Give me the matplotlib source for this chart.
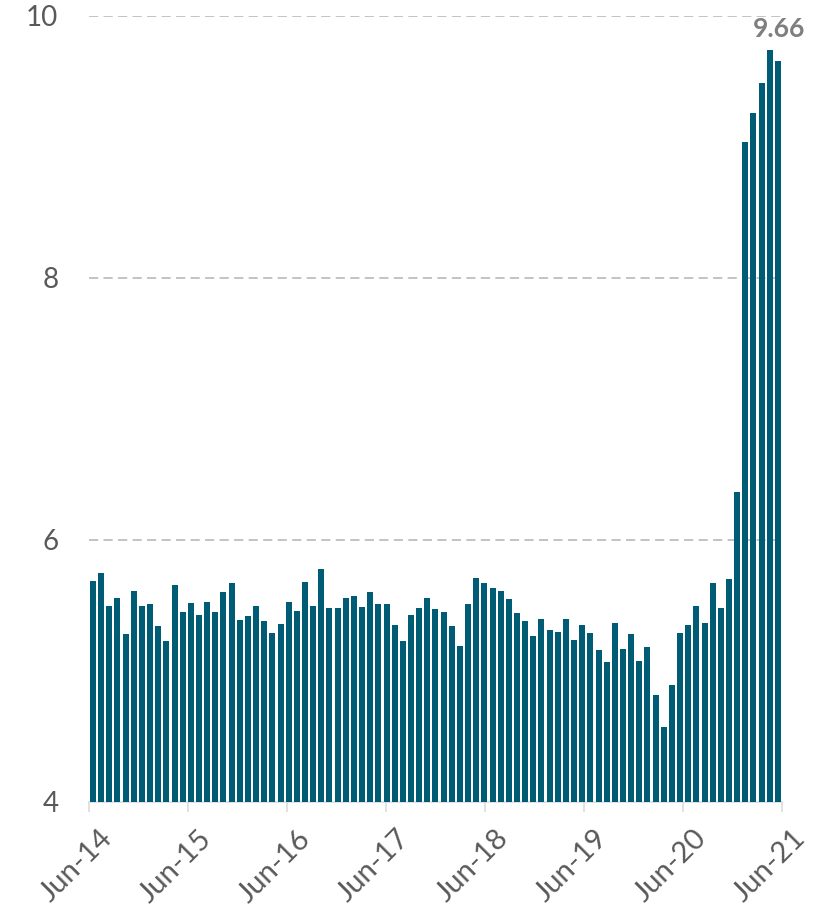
import matplotlib
matplotlib.use("Agg")
import matplotlib.pyplot as plt
import matplotlib.transforms as mtransforms
import numpy as np

plt.rcParams['font.family'] = ['Lato', 'DejaVu Sans']

# Monthly values Jun-14 .. Jun-21
values = [
    5.69, 5.75, 5.50, 5.56, 5.28, 5.61, 5.50, 5.51, 5.34, 5.23, 5.66, 5.45,
    5.52, 5.43, 5.53, 5.45, 5.60, 5.67, 5.39, 5.42, 5.50, 5.38, 5.29, 5.36,
    5.53, 5.46, 5.68, 5.50, 5.78, 5.48, 5.48, 5.56, 5.57, 5.49, 5.60, 5.51,
    5.51, 5.35, 5.23, 5.43, 5.48, 5.56, 5.47, 5.45, 5.34, 5.19, 5.51, 5.71,
    5.67, 5.63, 5.61, 5.55, 5.44, 5.38, 5.27, 5.40, 5.31, 5.30, 5.40, 5.24,
    5.35, 5.29, 5.16, 5.07, 5.37, 5.17, 5.28, 5.08, 5.18, 4.82, 4.57, 4.89,
    5.29, 5.35, 5.50, 5.37, 5.67, 5.48, 5.70, 6.37, 9.04, 9.26, 9.49, 9.74,
    9.66,
]
tick_labels = ["Jun-14", "Jun-15", "Jun-16", "Jun-17", "Jun-18", "Jun-19", "Jun-20", "Jun-21"]
y_ticks = [4, 6, 8, 10]
last_label = "9.66"

bar_color = "#005B75"
text_gray = "#595959"

fig = plt.figure(figsize=(8.28, 9.07), dpi=100)
ax = fig.add_axes([88.9 / 828, 1 - 802 / 907, 693.1 / 828, 786 / 907])

x = np.arange(len(values))
ax.bar(x, values, width=0.74, color=bar_color, edgecolor="none", zorder=3)

ax.set_xlim(-0.5, len(values) - 0.5)
ax.set_ylim(4, 10)

ax.set_yticks(y_ticks)
ax.set_yticklabels([str(v) for v in y_ticks])
ax.tick_params(axis="y", length=0, pad=22, labelsize=20, labelcolor=text_gray)

xt = np.linspace(-0.5, len(values) - 0.5, len(tick_labels))
ax.set_xticks(xt)
ax.set_xticklabels(tick_labels, rotation=45, ha="right", va="top", rotation_mode="anchor")
ax.tick_params(axis="x", length=7.2, width=1.1, color="#d9d9d9", pad=6,
               labelsize=21, labelcolor=text_gray)
offset = mtransforms.ScaledTranslation(10 / 100, -5 / 100, fig.dpi_scale_trans)
for lab in ax.get_xticklabels():
    lab.set_transform(lab.get_transform() + offset)

for s in ["top", "right", "left"]:
    ax.spines[s].set_visible(False)
ax.spines["bottom"].set_color("#d9d9d9")
ax.spines["bottom"].set_linewidth(1.1)

for yv in y_ticks[1:]:
    ax.axhline(yv, color="#b3b3b3", linewidth=1.1, linestyle=(0, (6, 3.5)), zorder=1)

ax.annotate(last_label, xy=(x[-1], values[-1]), xytext=(1, 14), textcoords="offset points",
            ha="center", va="bottom", fontsize=19, fontweight="bold", color="#7f7f7f",
            annotation_clip=False)

fig.savefig("out.png", dpi=100)
